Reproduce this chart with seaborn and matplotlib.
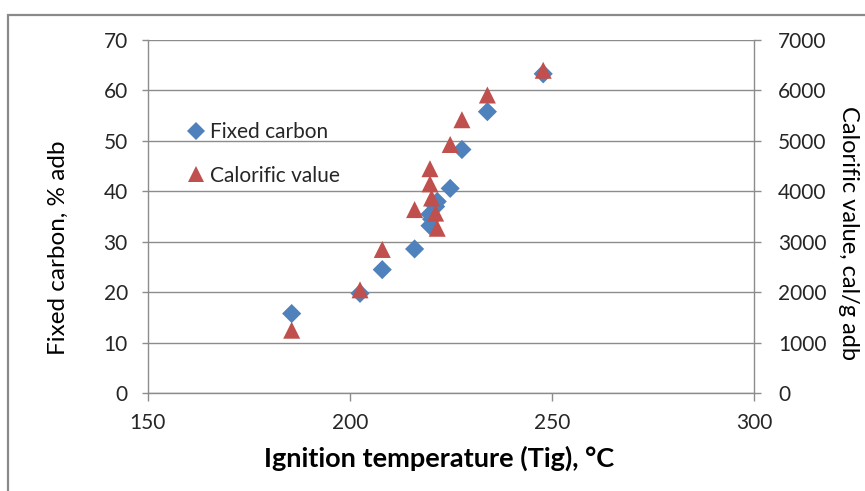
import numpy as np
import pandas as pd
import matplotlib
matplotlib.use("Agg")
import matplotlib.pyplot as plt
from matplotlib.patches import Rectangle
from matplotlib.lines import Line2D
import seaborn as sns

# ignition temperature (deg C) for each sample
tig = [185.6, 202.5, 208.0, 216.0, 219.8, 219.8, 220.2, 221.2, 221.6, 224.8, 227.7, 234.0, 247.8]
fixed_carbon = [15.8, 19.8, 24.5, 28.6, 33.2, 35.5, 34.5, 37.0, 38.0, 40.6, 48.3, 55.8, 63.3]
calorific = [1250, 2050, 2850, 3640, 4450, 4150, 3870, 3570, 3270, 4930, 5420, 5910, 6400]

x_ticks = [150, 200, 250, 300]
y1_ticks = [0, 10, 20, 30, 40, 50, 60, 70]
y2_ticks = [0, 1000, 2000, 3000, 4000, 5000, 6000, 7000]

blue = "#4F81BD"
red = "#C0504D"
grey = "#8C8C8C"

sns.set_style("white")
plt.rcParams["font.family"] = ["Lato", "DejaVu Sans"]

df = pd.DataFrame({"tig": tig, "fc": fixed_carbon, "cv": calorific})

fig = plt.figure(figsize=(8.65, 4.91), dpi=100)
ax = fig.add_axes([147.7 / 865, 1 - 393.3 / 491, (754.3 - 147.7) / 865, 353.3 / 491])

sns.scatterplot(data=df, x="tig", y="fc", marker="D", s=95, color=blue,
                edgecolor="none", ax=ax, zorder=3)
ax2 = ax.twinx()
sns.scatterplot(data=df, x="tig", y="cv", marker="^", s=150, color=red,
                edgecolor="none", ax=ax2, zorder=3)

ax.set_xlim(150, 300)
ax.set_ylim(0, 70)
ax2.set_ylim(0, 7000)
ax.set_xticks(x_ticks)
ax.set_yticks(y1_ticks)
ax2.set_yticks(y2_ticks)

ax.grid(axis="y", color=grey, lw=1)
ax.grid(axis="x", visible=False)
ax2.grid(False)
ax.set_axisbelow(True)

for a in (ax, ax2):
    for s in a.spines.values():
        s.set_visible(False)
ax.spines["left"].set_visible(True)
ax.spines["bottom"].set_visible(True)
ax2.spines["right"].set_visible(True)
for s in (ax.spines["left"], ax.spines["bottom"], ax2.spines["right"]):
    s.set_color(grey)
    s.set_linewidth(1)

ax.tick_params(axis="y", length=4.3, width=1, color=grey, labelsize=15,
               labelcolor="#262626", direction="out", left=True, pad=10)
ax.tick_params(axis="x", length=6, width=1, color=grey, labelsize=15,
               labelcolor="#262626", direction="out", bottom=True, pad=8)
ax2.tick_params(axis="y", length=5, width=1, color=grey, labelsize=15,
                labelcolor="#262626", direction="out", right=True, pad=12)

ax.set_xlabel("Ignition temperature (Tig), °C", fontsize=19.5, fontweight="bold",
              color="black")
ax.xaxis.set_label_coords(0.4805, -0.148)
ax.set_ylabel("Fixed carbon, % adb", fontsize=17.5, color="black", va="center")
ax.yaxis.set_label_coords(-0.148, 0.411)
ax2.set_ylabel("Calorific value, cal/g adb", fontsize=17, color="black",
               rotation=-90, va="center")
ax2.yaxis.set_label_coords(1.1545, 0.455)

handles = [
    Line2D([], [], marker="D", ls="none", color=blue, markersize=9, markeredgewidth=0),
    Line2D([], [], marker="^", ls="none", color=red, markersize=12, markeredgewidth=0),
]
ax2.legend(handles, ["Fixed carbon", "Calorific value"], loc="center left",
           bbox_to_anchor=(0.0625, 0.677), frameon=False, fontsize=15,
           borderpad=0, borderaxespad=0, labelspacing=1.12,
           handletextpad=0.17, handlelength=1.0)

# chart-area border, cut off on the right and bottom like the source
fig.add_artist(Rectangle((8 / 865, -0.1), 1.2, 1 - 15 / 491 + 0.1,
                         transform=fig.transFigure, fill=False,
                         edgecolor="#8A8A8A", lw=1.6))

fig.savefig("out.png", dpi=100)
